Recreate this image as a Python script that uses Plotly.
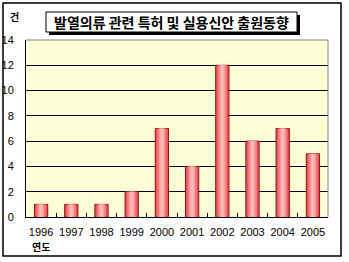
import plotly.graph_objects as go

years = ["1996", "1997", "1998", "1999", "2000", "2001", "2002", "2003", "2004", "2005"]
counts = [1, 1, 1, 2, 7, 4, 12, 6, 7, 5]
title_text = "발열의류 관련 특허 및 실용신안 출원동향"
y_label = "건"
x_label = "연도"
y_ticks = [0, 2, 4, 6, 8, 10, 12, 14]

W, H = 349, 262
L, R, T, B = 26, 21, 40, 45
PW, PH = W - L - R, H - T - B

def px(x):
    return (x - L) / PW

def py(y):
    return (H - B - y) / PH

fig = go.Figure()
# layered bars to mimic a cylinder-like gradient
layers = [(0.44, "#E4525A", dict(color="#9A1010", width=1)),
          (0.32, "#F07478", dict(width=0)),
          (0.20, "#FF9C9C", dict(width=0)),
          (0.10, "#FFB8B8", dict(width=0))]
for w, c, ln in layers:
    fig.add_trace(go.Bar(x=years, y=counts, width=w, marker=dict(color=c, line=ln),
                         hoverinfo="skip", showlegend=False))

fig.update_layout(
    width=W, height=H, margin=dict(l=L, r=R, t=T, b=B, autoexpand=False),
    barmode="overlay", paper_bgcolor="white", plot_bgcolor="#FFFFD6",
    font=dict(family="Liberation Sans, Arial", size=11, color="black"),
    xaxis=dict(type="category", showgrid=False, showline=True, linecolor="black", linewidth=1,
               ticks="inside", ticklen=4, tickcolor="black", tickson="boundaries",
               tickfont=dict(size=11), tickangle=0, ticklabelstandoff=5, range=[-0.5, 9.5],
               automargin=False),
    yaxis=dict(range=[0, 14], tickvals=y_ticks, showgrid=True, gridcolor="black", gridwidth=1,
               showline=True, linecolor="black", linewidth=1, ticks="",
               tickfont=dict(size=11), ticklabelstandoff=9, zeroline=False, automargin=False),
)

shapes = [
    # outer chart border
    dict(type="rect", xref="paper", yref="paper", x0=px(3), x1=px(341), y0=py(256), y1=py(3),
         line=dict(color="black", width=1.5), fillcolor="rgba(0,0,0,0)"),
    # gray top and right plot border
    dict(type="line", xref="paper", yref="paper", x0=0, x1=1, y0=1, y1=1, line=dict(color="#808080", width=1)),
    dict(type="line", xref="paper", yref="paper", x0=1, x1=1, y0=0, y1=1, line=dict(color="#808080", width=1)),
    # title shadow and box
    dict(type="rect", xref="paper", yref="paper", x0=px(49), x1=px(300), y0=py(35), y1=py(15),
         line=dict(width=0), fillcolor="black"),
    dict(type="rect", xref="paper", yref="paper", x0=px(46), x1=px(297), y0=py(32), y1=py(12),
         line=dict(color="black", width=1), fillcolor="white"),
]
fig.update_layout(shapes=shapes)

fig.add_annotation(text=f"<b>{title_text}</b>", xref="paper", yref="paper", x=px(171.5), y=py(22),
                   xanchor="center", yanchor="middle", showarrow=False,
                   font=dict(family="Noto Sans CJK KR", size=14, color="black"))
fig.add_annotation(text=f"<b>{y_label}</b>", xref="paper", yref="paper", x=px(8), y=py(17),
                   xanchor="left", yanchor="middle", showarrow=False,
                   font=dict(family="Noto Sans CJK KR", size=10, color="black"))
fig.add_annotation(text=f"<b>{x_label}</b>", xref="paper", yref="paper", x=px(30), y=py(246),
                   xanchor="left", yanchor="middle", showarrow=False,
                   font=dict(family="Noto Sans CJK KR", size=10, color="black"))

fig.write_html("out.html")
